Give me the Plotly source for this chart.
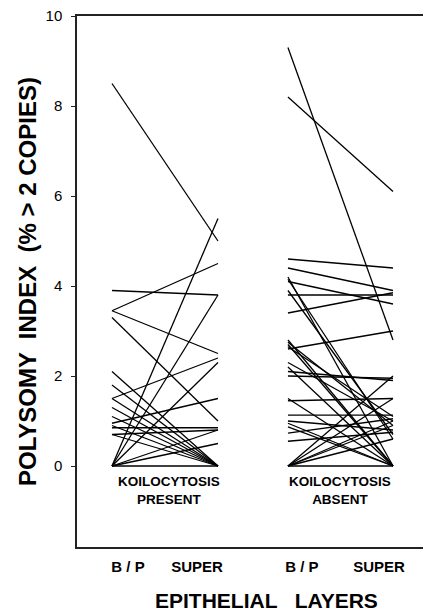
import plotly.graph_objects as go

# ---- data (B/P value -> SUPER value for each case) ----
present_bp = [8.5, 0.0, 3.45, 3.9, 0.0, 3.45, 3.3, 1.5, 0.0, 2.1, 1.8, 1.5, 1.3, 1.1,
              0.95, 0.9, 0.85, 0.7, 0.0, 0.0, 0.0, 0.7]
present_super = [5.0, 5.5, 4.5, 3.8, 3.8, 2.5, 1.0, 2.4, 2.3, 0.0, 0.0, 0.0, 0.0, 0.0,
                 1.5, 0.0, 0.85, 0.8, 0.5, 0.8, 0.0, 0.0]

absent_bp = [9.3, 8.2, 4.6, 4.4, 4.2, 4.15, 4.1, 3.9, 3.8, 3.4, 2.8, 2.75, 2.7, 2.65, 2.6,
             2.3, 2.2, 2.1, 2.0, 1.5, 1.45, 1.13, 1.0, 0.87, 0.73, 0.55, 0.0, 0.0, 0.0,
             0.0, 0.0, 0.0, 0.95]
absent_super = [2.8, 6.1, 4.4, 3.9, 0.0, 0.6, 3.6, 0.7, 3.8, 3.85, 0.0, 0.9, 0.0, 1.1, 3.0,
                1.0, 0.0, 1.9, 1.95, 0.0, 1.5, 1.13, 0.8, 0.0, 1.05, 0.75, 2.0, 1.5, 0.9,
                0.6, 0.0, 1.0, 0.0]

layer_labels = ["B / P", "SUPER", "B / P", "SUPER"]
group_labels = ["KOILOCYTOSIS<br>PRESENT", "KOILOCYTOSIS<br>ABSENT"]
y_ticks = [0, 2, 4, 6, 8, 10]

# ---- layout positions (x coordinates of the layers) ----
X_BP1, X_SUP1 = 1.0, 2.0
X_BP2, X_SUP2 = 2.66, 3.651
label_pos = [1.151, 1.802, 2.792, 3.519]
X_RANGE = [0.67, 3.934]
Y_RANGE = [-1.8, 10]


def segments(bp, sup, x0, x1):
    xs, ys = [], []
    for a, b in zip(bp, sup):
        xs += [x0, x1, None]
        ys += [a, b, None]
    return xs, ys


fig = go.Figure()
for bp, sup, x0, x1 in [(present_bp, present_super, X_BP1, X_SUP1),
                        (absent_bp, absent_super, X_BP2, X_SUP2)]:
    xs, ys = segments(bp, sup, x0, x1)
    fig.add_trace(go.Scatter(x=xs, y=ys, mode="lines",
                             line=dict(color="black", width=1.3),
                             showlegend=False, hoverinfo="skip"))

FONT = "Liberation Sans, Arial, sans-serif"

fig.update_layout(
    width=423, height=616,
    margin=dict(l=77, r=0, t=16, b=69),
    paper_bgcolor="white", plot_bgcolor="white",
    font=dict(family=FONT, color="black"),
    xaxis=dict(range=X_RANGE, showgrid=False, zeroline=False,
               showline=True, mirror=True, linecolor="#222", linewidth=1.5,
               tickvals=label_pos, ticktext=[f"<b>{t}</b>" for t in layer_labels],
               ticks="", tickfont=dict(size=15, family=FONT),
               ticklabelstandoff=5),
    yaxis=dict(range=Y_RANGE, showgrid=False, zeroline=False,
               showline=True, linecolor="#222", linewidth=1.5,
               tickvals=y_ticks, ticks="outside", ticklen=4, tickcolor="#222",
               tickfont=dict(size=15, family=FONT), ticklabelstandoff=6,
               title=dict(text="<b>POLYSOMY  INDEX  (% > 2 COPIES)</b>",
                          font=dict(size=24, family=FONT), standoff=2)),
)

fig.add_annotation(x=(X_BP1 + X_SUP1) / 2 + 0.04, y=-0.55, xref="x", yref="y",
                   text=f"<b>{group_labels[0]}</b>", showarrow=False,
                   font=dict(size=13.5, family=FONT), align="center")
fig.add_annotation(x=(X_BP2 + X_SUP2) / 2 + 0.0, y=-0.55, xref="x", yref="y",
                   text=f"<b>{group_labels[1]}</b>", showarrow=False,
                   font=dict(size=13.5, family=FONT), align="center")
fig.add_annotation(x=(266 - 77) / 346, y=-(600 - 547) / 531, xref="paper", yref="paper",
                   text="<b>EPITHELIAL   LAYERS</b>", showarrow=False,
                   yanchor="middle", font=dict(size=21, family=FONT))

fig.write_html("out.html", config={"displayModeBar": False},
               post_script="document.body.style.margin='0';document.body.style.padding='0';")
